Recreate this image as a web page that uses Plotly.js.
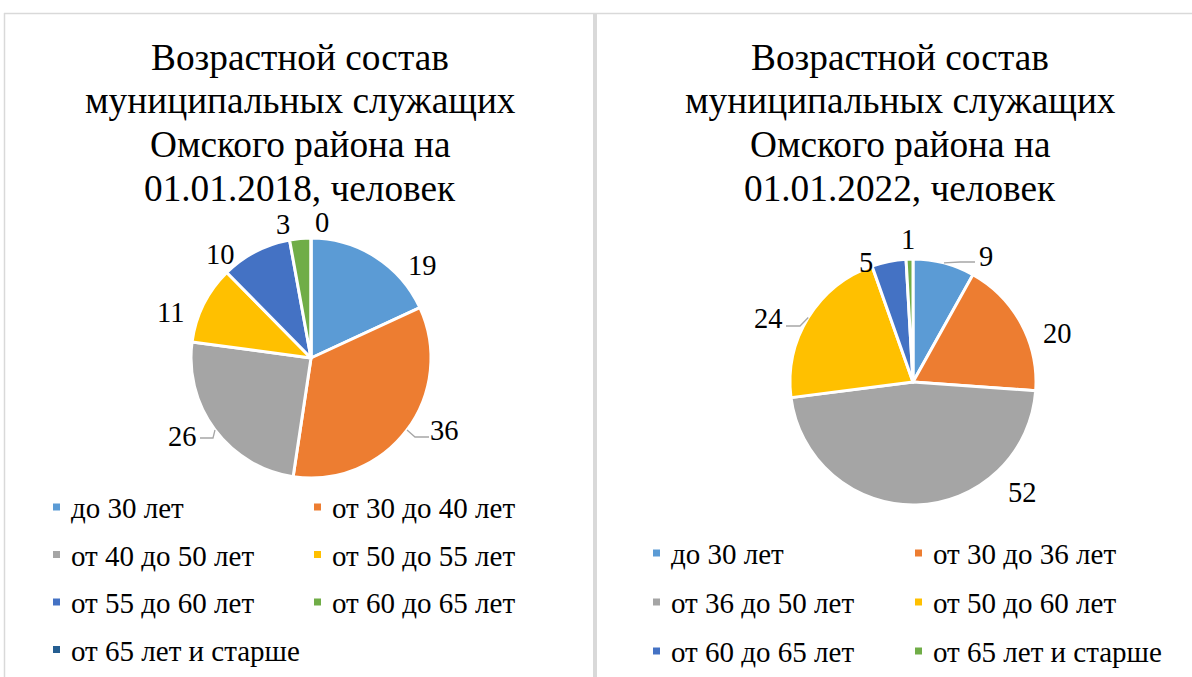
<!DOCTYPE html>
<html>
<head>
<meta charset="utf-8">
<script src="https://cdn.plot.ly/plotly-3.0.1.min.js"></script>
<style>
html,body{margin:0;padding:0;background:#fff;}
#chart{width:1192px;height:677px;}
</style>
</head>
<body>
<div id="chart"></div>
<script>
// ---- data ----
const title2018 = ['Возрастной состав', 'муниципальных служащих', 'Омского района на', '01.01.2018, человек'];
const title2022 = ['Возрастной состав', 'муниципальных служащих', 'Омского района на', '01.01.2022, человек'];
const labels2018 = ['до 30 лет', 'от 30 до 40 лет', 'от 40 до 50 лет', 'от 50 до 55 лет', 'от 55 до 60 лет', 'от 60 до 65 лет', 'от 65 лет и старше'];
const values2018 = [19, 36, 26, 11, 10, 3, 0];
const labels2022 = ['до 30 лет', 'от 30 до 36 лет', 'от 36 до 50 лет', 'от 50 до 60 лет', 'от 60 до 65 лет', 'от 65 лет и старше'];
const values2022 = [9, 20, 52, 24, 5, 1];
const colors2018 = ['#5B9BD5', '#ED7D31', '#A5A5A5', '#FFC000', '#4472C4', '#70AD47', '#255E91'];
const colors2022 = ['#5B9BD5', '#ED7D31', '#A5A5A5', '#FFC000', '#4472C4', '#70AD47'];

// ---- placement (styling only): data-label centres in px, optional leader elbow/end ----
const labelPlace2018 = [
  {at: [422, 265]}, {at: [445, 430], lead: [[415, 437], [429, 437]]},
  {at: [183, 436], lead: [[213, 438], [200, 438]]}, {at: [170, 312]},
  {at: [220, 255]}, {at: [283, 225]}, {at: [322, 222]}
];
const labelPlace2022 = [
  {at: [986, 256], lead: [[960, 262], [975, 262]]}, {at: [1057, 333]},
  {at: [1022, 492]}, {at: [768, 318], lead: [[800, 326], [786, 326]]},
  {at: [866, 262]}, {at: [908, 240]}
];

// ---- layout helpers ----
const W = 1192, H = 677;
const FONT = 'Liberation Serif, Times New Roman, serif';
const LABEL_SIZE = 28.5;
const LEGEND_SIZE = 29;
const px = x => x / W;
const py = y => 1 - y / H;

const annotations = [];
const shapes = [];

function pieTrace(labels, values, colors, box, place) {
  const total = values.reduce((a, b) => a + b, 0);
  const cx = (box.x0 + box.x1) / 2, cy = (box.y0 + box.y1) / 2;
  const R = Math.min(box.x1 - box.x0, box.y1 - box.y0) / 2;
  let cum = 0;
  values.forEach((v, i) => {
    const mid = (cum + v / 2) / total * 2 * Math.PI;
    cum += v;
    const p = place[i];
    annotations.push({
      text: String(v), xref: 'paper', yref: 'paper',
      x: px(p.at[0]), y: py(p.at[1]),
      xanchor: 'center', yanchor: 'middle', showarrow: false,
      font: {family: FONT, size: LABEL_SIZE, color: '#000'}
    });
    if (p.lead) {
      // leader starts on the slice edge at its mid angle
      const ex = cx + R * Math.sin(mid), ey = cy - R * Math.cos(mid);
      const path = 'M' + px(ex) + ',' + py(ey) +
        ' L' + px(p.lead[0][0]) + ',' + py(p.lead[0][1]) +
        ' L' + px(p.lead[1][0]) + ',' + py(p.lead[1][1]);
      shapes.push({type: 'path', xref: 'paper', yref: 'paper', path: path,
        line: {color: '#A6A6A6', width: 1.3}});
    }
  });
  return {
    type: 'pie',
    labels: labels,
    values: values,
    sort: false,
    direction: 'clockwise',
    rotation: 0,
    textinfo: 'none',
    automargin: false,
    marker: {colors: colors, line: {color: '#fff', width: 3}},
    domain: {x: [px(box.x0), px(box.x1)], y: [py(box.y1), py(box.y0)]},
    showlegend: false,
    hoverinfo: 'label+value'
  };
}

const data = [
  pieTrace(labels2018, values2018, colors2018, {x0: 191, x1: 431, y0: 238, y1: 478}, labelPlace2018),
  pieTrace(labels2022, values2022, colors2022, {x0: 790, x1: 1036, y0: 259, y1: 505}, labelPlace2022)
];

function addTitle(lines, cx) {
  lines.forEach((t, i) => {
    annotations.push({
      text: t, x: px(cx), y: py(57 + 43.7 * i), xref: 'paper', yref: 'paper',
      xanchor: 'center', yanchor: 'middle', showarrow: false,
      font: {family: FONT, size: 37.3, color: '#000'}
    });
  });
}
addTitle(title2018, 300);
addTitle(title2022, 900);

function addLegend(labels, colors, cfg) {
  labels.forEach((t, i) => {
    const col = i % 2, row = Math.floor(i / 2);
    const mx = cfg.markerX[col];
    const cy = cfg.rowY0 + cfg.rowStep * row;
    shapes.push({
      type: 'rect', xref: 'paper', yref: 'paper',
      x0: px(mx), x1: px(mx + 7), y0: py(cy - 3.5), y1: py(cy + 3.5),
      fillcolor: colors[i], line: {width: 0}
    });
    annotations.push({
      text: t, x: px(mx + 16), y: py(cy + 1), xref: 'paper', yref: 'paper',
      xanchor: 'left', yanchor: 'middle', showarrow: false,
      font: {family: FONT, size: LEGEND_SIZE, color: '#000'}
    });
  });
}
addLegend(labels2018, colors2018, {markerX: [53, 314], rowY0: 507, rowStep: 47.5});
addLegend(labels2022, colors2022, {markerX: [653, 915], rowY0: 553, rowStep: 49});

// panel frames
const frameColor = '#D9D9D9';
shapes.push({type: 'line', xref: 'paper', yref: 'paper', x0: px(4), x1: 1, y0: py(13.5), y1: py(13.5), line: {color: frameColor, width: 1.5}});
shapes.push({type: 'line', xref: 'paper', yref: 'paper', x0: px(4.5), x1: px(4.5), y0: py(13), y1: 0, line: {color: frameColor, width: 1.5}});
shapes.push({type: 'line', xref: 'paper', yref: 'paper', x0: px(595), x1: px(595), y0: py(13), y1: 0, line: {color: frameColor, width: 4}});

const layout = {
  width: W, height: H,
  margin: {l: 0, r: 0, t: 0, b: 0},
  paper_bgcolor: '#fff',
  font: {family: FONT, color: '#000'},
  showlegend: false,
  annotations: annotations,
  shapes: shapes
};

Plotly.newPlot('chart', data, layout, {displayModeBar: false, staticPlot: true});
</script>
</body>
</html>
